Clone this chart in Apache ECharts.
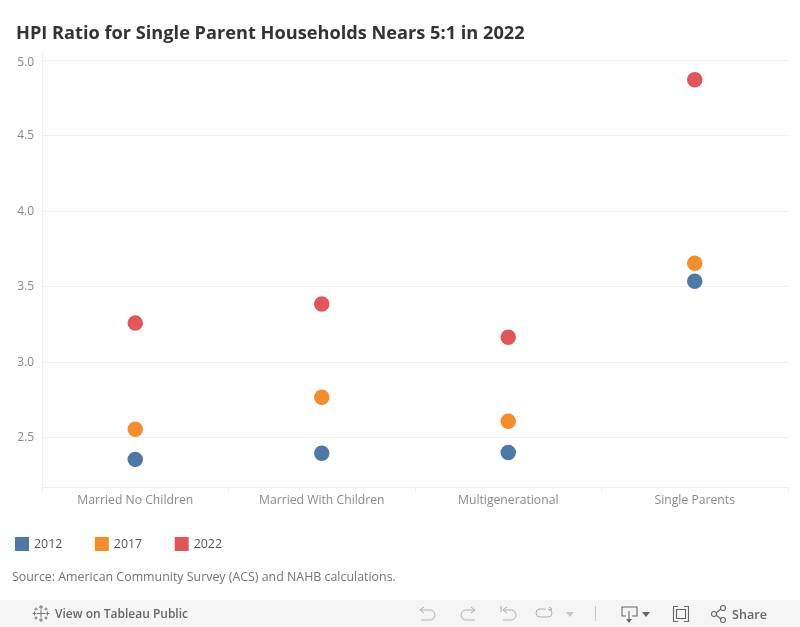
<!DOCTYPE html>
<html><head><meta charset="utf-8">
<style>html,body{margin:0;padding:0;background:#fff}#c{width:800px;height:627px}</style>
<script src="https://cdn.jsdelivr.net/npm/echarts@6/dist/echarts.min.js"></script>
</head><body><div id="c"></div>
<script>
const categories = ['Married No Children','Married With Children','Multigenerational','Single Parents'];
const values2012 = [2.354,2.394,2.40,3.535];
const values2017 = [2.553,2.766,2.606,3.654];
const values2022 = [3.257,3.383,3.164,4.87];
const seriesNames = ['2012','2017','2022'];
const yTicks = [2.5,3,3.5,4,4.5,5];
const colors = ['#4e79a7','#f28e2b','#e15759'];
const font = '"Open Sans"';
const chart = echarts.init(document.getElementById('c'),null,{renderer:'canvas'});
const mk=(name,data,c)=>({name,type:'scatter',data,symbol:'circle',symbolSize:15.5,itemStyle:{color:c,opacity:1},emphasis:{disabled:true}});
const iconStyle={stroke:'#b0b0b0',lineWidth:1,fill:null};
const darkIcon={stroke:'#666',lineWidth:1.1,fill:null};
const logoStyle={stroke:'#777',lineWidth:1,fill:null};
const poly=(pts,style)=>({type:'polyline',shape:{points:pts},style:style,silent:true});
const arc=(cx,cy,r,a,b,style)=>({type:'arc',shape:{cx,cy,r,startAngle:a,endAngle:b},style:style,silent:true});
const cross=(x,y,a)=>[poly([[x,y-a],[x,y+a]],logoStyle),poly([[x-a,y],[x+a,y]],logoStyle)];
const labelRich={fontFamily:font,fontSize:12,color:'#8a8a8a'};
chart.setOption({
  animation:false,
  title:{text:'HPI Ratio for Single Parent Households Nears 5:1 in 2022',left:16,top:25,padding:0,
    textStyle:{fontFamily:font,fontSize:18.2,fontWeight:700,color:'#333'}},
  grid:{left:42,right:12,top:53,bottom:140,containLabel:false},
  legend:{left:15,top:537,itemWidth:14,itemHeight:14,itemGap:32.5,padding:0,icon:'rect',data:seriesNames,
    textStyle:{fontFamily:font,fontSize:12.4,color:'#555',padding:[2,0,0,0]},itemStyle:{borderWidth:0}},
  xAxis:{type:'category',data:categories,boundaryGap:true,
    axisLine:{show:true,lineStyle:{color:'#f0f0f0',width:1}},
    axisTick:{show:true,alignWithLabel:false,length:5,lineStyle:{color:'#f0f0f0'}},
    axisLabel:{fontFamily:font,fontSize:12.2,color:'#8a8a8a',margin:8},
    splitLine:{show:false}},
  yAxis:{type:'value',min:2.171,max:5.047,
    axisLine:{show:true,lineStyle:{color:'#f0f0f0',width:1}},
    axisTick:{show:false},
    axisLabel:{fontFamily:font,fontSize:12,color:'#8a8a8a',margin:8,customValues:yTicks,
      formatter:v=>(v===5?'{t|':'{n|')+v.toFixed(1)+'}',
      rich:{t:{...labelRich,padding:[4,0,0,0]},n:{...labelRich,padding:[1,0,0,0]}}},
    splitLine:{show:true,customValues:yTicks,showMinLine:false,showMaxLine:false,lineStyle:{color:'#f0f0f0',width:1}}},
  series:[mk(seriesNames[0],values2012,colors[0]),mk(seriesNames[1],values2017,colors[1]),mk(seriesNames[2],values2022,colors[2])],
  graphic:[
    {type:'text',left:12,top:571,style:{text:'Source: American Community Survey (ACS) and NAHB calculations.',fontFamily:font,fontSize:12.4,fill:'#757575'},silent:true},
    {type:'rect',shape:{x:0,y:600,width:800,height:27},style:{fill:'#f5f5f5'},silent:true,z:-1},
    {type:'text',left:55,top:609,style:{text:'View on Tableau Public',fontFamily:font,fontSize:12,fontWeight:600,fill:'#666'},silent:true},
    {type:'text',left:732,top:609,style:{text:'Share',fontFamily:font,fontSize:12.6,fontWeight:600,fill:'#666'},silent:true},
    ...cross(41,613.5,4),...cross(41,607,2),...cross(41,620,2),...cross(34.5,613.5,2),...cross(47.5,613.5,2),
    ...cross(36,609,1.5),...cross(46,609,1.5),...cross(36,618,1.5),...cross(46,618,1.5),
    poly([[424,607],[420,610],[424,613]],iconStyle),poly([[420,610],[430,610]],iconStyle),arc(430,615,5,-Math.PI/2,Math.PI/2,iconStyle),poly([[430,620],[421,620]],iconStyle),
    poly([[471,607],[475,610],[471,613]],iconStyle),poly([[475,610],[466,610]],iconStyle),arc(466,615,5,Math.PI/2,-Math.PI/2,iconStyle),poly([[466,620],[475,620]],iconStyle),
    poly([[501,606],[501,612]],iconStyle),poly([[507,607],[503,610],[507,613]],iconStyle),poly([[503,610],[511,610]],iconStyle),arc(511,615,5,-Math.PI/2,Math.PI/2,iconStyle),poly([[511,620],[503,620]],iconStyle),
    poly([[546,609],[539,609]],iconStyle),arc(540,613,4,Math.PI/2,-Math.PI/2,iconStyle),poly([[540,617],[548,617]],iconStyle),arc(548,613,4,-Math.PI/2,Math.PI/2,iconStyle),poly([[549,607],[552,609],[549,611]],iconStyle),
    {type:'polygon',shape:{points:[[566,612],[574,612],[570,617]]},style:{fill:'#c8c8c8'},silent:true},
    poly([[595.5,606],[595.5,621]],{stroke:'#c8c8c8',lineWidth:1,fill:null}),
    poly([[626,616],[622,616],[622,607],[637,607],[637,616],[632,616]],darkIcon),poly([[629,611],[629,621]],darkIcon),
    {type:'polygon',shape:{points:[[626,619],[632,619],[629,623]]},style:{fill:'#666'},silent:true},
    {type:'polygon',shape:{points:[[642,612],[650,612],[646,617]]},style:{fill:'#666'},silent:true},
    poly([[678,606.5],[673.5,606.5],[673.5,621.5],[678,621.5]],darkIcon),poly([[684,606.5],[688.5,606.5],[688.5,621.5],[684,621.5]],darkIcon),
    {type:'rect',shape:{x:676.5,y:609.5,width:9,height:9},style:darkIcon,silent:true},
    {type:'circle',shape:{cx:714,cy:614,r:2.5},style:darkIcon,silent:true},
    {type:'circle',shape:{cx:723,cy:608,r:2.5},style:darkIcon,silent:true},
    {type:'circle',shape:{cx:723,cy:620,r:2.5},style:darkIcon,silent:true},
    poly([[716,613],[721,609]],darkIcon),poly([[716,615],[721,619]],darkIcon)
  ]
});
</script></body></html>
